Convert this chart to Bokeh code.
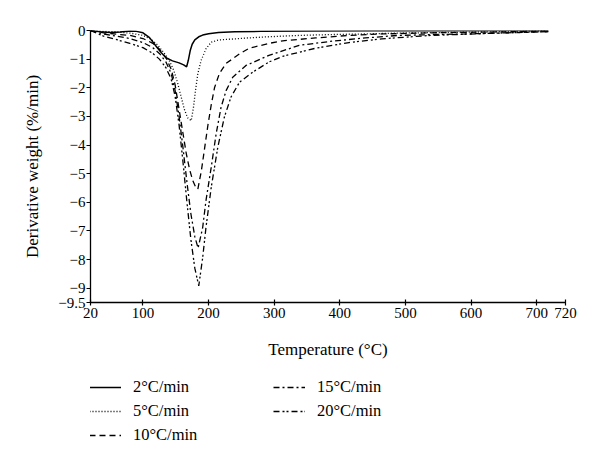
from bokeh.plotting import figure
from bokeh.layouts import column
from bokeh.models import Legend, LegendItem, FixedTicker, Range1d
from bokeh.embed import file_html
from bokeh.resources import INLINE

# ---- data ----
t_2 = [20, 35, 50, 65, 80, 90, 100, 110, 120, 128, 135, 145, 155, 162, 166.5, 169, 172, 175, 179, 185, 191, 200, 215, 240, 280, 350, 450, 550, 650, 718]
d_2 = [0, -0.04, -0.07, -0.05, -0.02, -0.03, -0.08, -0.25, -0.55, -0.78, -0.95, -1.06, -1.13, -1.2, -1.27, -1.05, -0.7, -0.48, -0.33, -0.22, -0.16, -0.11, -0.07, -0.04, -0.03, -0.02, -0.01, -0.01, 0, 0]

t_5 = [20, 40, 60, 80, 100, 112, 122, 132, 140, 147, 153, 158, 163, 168, 173.5, 177, 180, 183.5, 188.5, 196, 204, 215, 235, 260, 290, 340, 390, 440, 490, 590, 650, 718]
d_5 = [0, -0.03, -0.05, -0.09, -0.17, -0.3, -0.5, -0.78, -1.05, -1.4, -1.85, -2.3, -2.75, -3.05, -3.15, -2.68, -2.1, -1.52, -1.05, -0.64, -0.41, -0.33, -0.3, -0.26, -0.22, -0.17, -0.14, -0.12, -0.09, -0.06, -0.04, -0.01]

t_10 = [20, 40, 60, 80, 100, 115, 125, 135, 143, 149, 155, 161, 166, 171, 176, 180, 183.6, 189, 194, 199, 204, 209, 216.5, 226.7, 246.9, 262, 292, 313, 363, 414, 464, 540, 642, 718]
d_10 = [0, -0.08, -0.13, -0.17, -0.28, -0.45, -0.65, -0.95, -1.35, -1.9, -2.75, -3.6, -4.3, -4.85, -5.25, -5.45, -5.54, -4.9, -4.1, -3.3, -2.6, -2.0, -1.5, -1.15, -0.82, -0.62, -0.45, -0.36, -0.26, -0.17, -0.12, -0.08, -0.05, -0.02]

t_15 = [20, 40, 60, 80, 100, 115, 125, 135, 143, 149, 155, 161, 167, 173, 179, 184, 191, 196, 204, 211.5, 219, 226.7, 236.8, 257, 292, 338, 389, 439, 490, 591, 692, 718]
d_15 = [0, -0.12, -0.2, -0.28, -0.42, -0.6, -0.8, -1.1, -1.5, -2.1, -3.0, -4.1, -5.3, -6.4, -7.2, -7.6, -6.88, -5.94, -4.78, -3.61, -2.68, -2.1, -1.63, -1.22, -0.87, -0.52, -0.37, -0.26, -0.17, -0.12, -0.06, -0.04]

t_20 = [20, 40, 60, 80, 100, 115, 125, 135, 143, 149, 155, 161, 167, 173, 179, 185, 191, 196, 204, 214, 224, 234, 247, 267, 292, 313, 363, 414, 464, 540, 642, 718]
d_20 = [0, -0.2, -0.32, -0.45, -0.6, -0.8, -1.0, -1.3, -1.7, -2.3, -3.3, -4.6, -6.0, -7.3, -8.3, -8.92, -7.93, -6.88, -5.48, -4.08, -3.03, -2.33, -1.81, -1.46, -1.1, -0.9, -0.62, -0.42, -0.29, -0.17, -0.09, -0.04]

series_labels = ["2°C/min", "5°C/min", "10°C/min", "15°C/min", "20°C/min"]

# the reference's last tick ("720") sits at the far end of its axis
x_start, x_end = 20, 744
x_ticks = [20, 100, 200, 300, 400, 500, 600, 700, x_end]
x_tick_labels = ["20", "100", "200", "300", "400", "500", "600", "700", "720"]
y_ticks = [0, -1, -2, -3, -4, -5, -6, -7, -8, -9, -9.5]
y_tick_labels = ["0", "−1", "−2", "−3", "−4", "−5", "−6", "−7", "−8", "−9", "−9.5"]

x_title = "Temperature (°C)"
y_title = "Derivative weight (%/min)"

FONT = "Liberation Serif"

p = figure(width=600, height=365, output_backend="svg", toolbar_location=None,
           x_range=Range1d(x_start, x_end), y_range=Range1d(-9.5, 0))
p.min_border_left = 90
p.min_border_right = 35
p.min_border_top = 30
p.min_border_bottom = 63
p.outline_line_color = None
p.grid.visible = False
p.background_fill_color = "white"
p.border_fill_color = "white"

styles = [
    dict(line_dash="solid", line_width=1.5),
    dict(line_dash="1 2", line_width=1.3),
    dict(line_dash="6 4", line_width=1.3),
    dict(line_dash="6 3 2 3", line_width=1.3),
    dict(line_dash="6 3 2 2 2 3", line_width=1.3),
]
data = [(t_2, d_2), (t_5, d_5), (t_10, d_10), (t_15, d_15), (t_20, d_20)]
for (tx, dy), st in zip(data, styles):
    p.line(tx, dy, line_color="black", **st)

# axes
p.xaxis.ticker = FixedTicker(ticks=x_ticks)
p.yaxis.ticker = FixedTicker(ticks=y_ticks)
p.xaxis.major_label_overrides = {t: l for t, l in zip(x_ticks, x_tick_labels)}
p.yaxis.major_label_overrides = {t: l for t, l in zip(y_ticks, y_tick_labels)}
for ax in (p.xaxis[0], p.yaxis[0]):
    ax.axis_line_color = "black"
    ax.axis_line_width = 1.3
    ax.major_tick_line_color = "black"
    ax.major_tick_line_width = 1.2
    ax.minor_tick_line_color = None
    ax.major_label_text_font = FONT
    ax.major_label_text_font_size = "15px"
    ax.major_label_text_color = "black"
    ax.axis_label_text_font = FONT
    ax.axis_label_text_font_size = "17px"
    ax.axis_label_text_font_style = "normal"
    ax.axis_label_text_color = "black"
p.xaxis.major_tick_in = 3
p.xaxis.major_tick_out = 3
p.yaxis.major_tick_in = 0
p.yaxis.major_tick_out = 4
p.xaxis.major_label_standoff = 2
p.yaxis.major_label_standoff = 1
p.xaxis.axis_label = x_title
p.yaxis.axis_label = y_title
p.xaxis.axis_label_standoff = 19
p.yaxis.axis_label_standoff = 13

# ---- legend panel (a second figure under the chart; its frame is aligned with the chart's) ----
lg = figure(width=600, height=102, output_backend="svg", toolbar_location=None,
            x_range=Range1d(0, 1), y_range=Range1d(0, 1),
            x_axis_type=None, y_axis_type=None)
lg.min_border = 0
lg.outline_line_color = None
lg.grid.visible = False
lg.border_fill_color = "white"
lg.background_fill_color = "white"
# key renderers carry the same series; they fall outside this panel's ranges, so only the legend shows
keys = [lg.line(tx, dy, line_color="black", **st) for (tx, dy), st in zip(data, styles)]

def make_legend(idx, loc):
    return Legend(items=[LegendItem(label=series_labels[i], renderers=[keys[i]]) for i in idx],
                  location=loc, orientation="vertical",
                  padding=0, margin=0, spacing=4,
                  glyph_width=32, glyph_height=20, label_height=20,
                  label_standoff=12, border_line_color=None,
                  background_fill_alpha=0,
                  label_text_font=FONT, label_text_font_size="16.5px",
                  label_text_color="black")

lg.add_layout(make_legend([0, 1, 2], (-1, 22)), "center")
lg.add_layout(make_legend([3, 4], (183, 46)), "center")

layout = column(p, lg, spacing=0)
open("out.html", "w").write(file_html(layout, INLINE))
